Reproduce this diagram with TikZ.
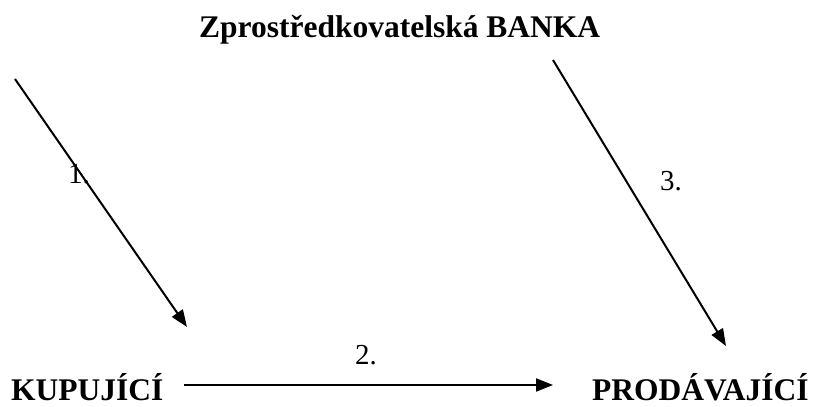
\documentclass[tikz,border=0pt]{standalone}
\usepackage{fontspec}
\setmainfont{Liberation Serif}
\usetikzlibrary{arrows.meta}
\begin{document}
\begin{tikzpicture}[x=1pt,y=-1pt,
  lbl/.style={font=\fontsize{31.5}{31.5}\selectfont\bfseries, inner sep=0pt},
  num/.style={font=\fontsize{29}{29}\selectfont, inner sep=0pt},
  conn/.style={line width=2pt, -{Triangle[length=17pt,width=13pt]}}]
\useasboundingbox (0,0) rectangle (817,407);
\node[lbl, anchor=base west] (bank) at (199,37) {Zprostředkovatelská BANKA};
\node[lbl, anchor=base west] (kup) at (11,400) {KUPUJÍCÍ};
\node[lbl, anchor=base west] (prod) at (592,400) {PRODÁVAJÍCÍ};
\coordinate (a1s) at (15,79);
\coordinate (a1e) at (187,327);
\coordinate (a3s) at (553,60);
\coordinate (a3e) at (726,346);
\coordinate (a2s) at (184,385);
\coordinate (a2e) at (553,385);
\draw[conn] (a1s) -- (a1e);
\draw[conn] (a3s) -- (a3e);
\draw[conn] (a2s) -- (a2e);
\node[num] (n1) at (79,174) {1.};
\node[num] (n2) at (366,355) {2.};
\node[num] (n3) at (671,181) {3.};
\end{tikzpicture}
\end{document}
